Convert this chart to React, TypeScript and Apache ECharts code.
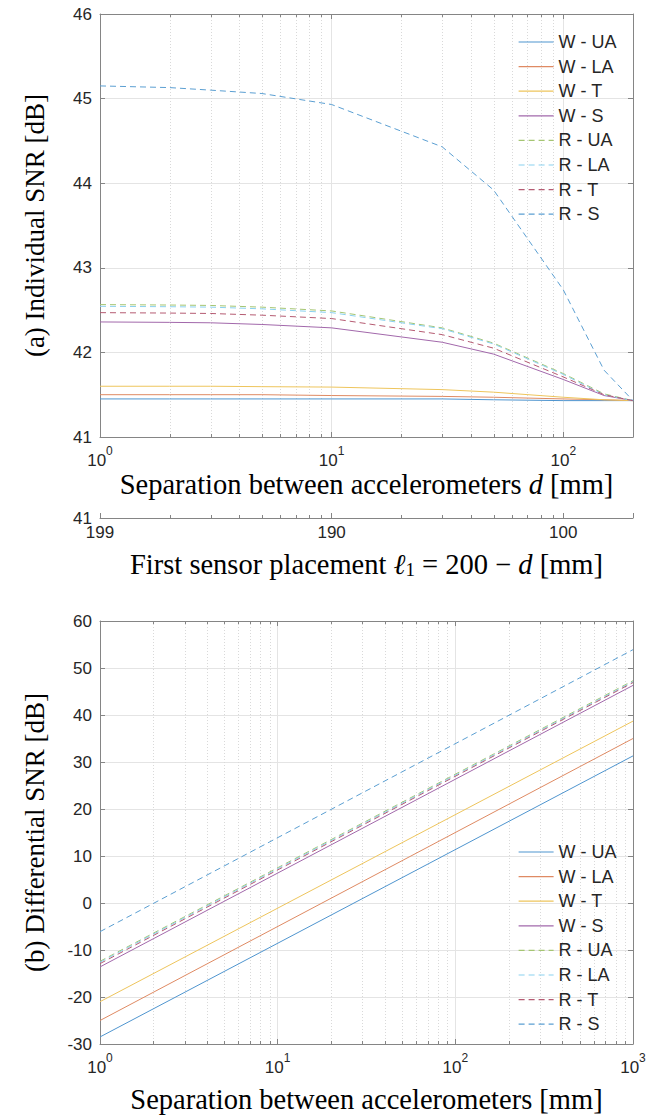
import React, { useEffect, useRef } from "react";
import * as echarts from "echarts";

// ---------- data ----------
const SERIES_NAMES = ["W - UA", "W - LA", "W - T", "W - S", "R - UA", "R - LA", "R - T", "R - S"];
const SERIES_COLORS = ["#4f95cf", "#df8a63", "#eec55c", "#a268ab", "#a5c572", "#8ad1ef", "#b55b72", "#5b9fd2"];
const SERIES_DASHED = [false, false, false, false, true, true, true, true];

// (a) individual SNR vs separation d [mm]
const D_TOP = [1, 2, 3, 5, 10, 30, 50, 100, 150, 200];
const A_W_UA = [41.45, 41.45, 41.45, 41.45, 41.45, 41.45, 41.44, 41.43, 41.43, 41.43];
const A_W_LA = [41.5, 41.5, 41.5, 41.5, 41.49, 41.48, 41.47, 41.45, 41.44, 41.43];
const A_W_T = [41.6, 41.6, 41.6, 41.595, 41.59, 41.56, 41.53, 41.47, 41.44, 41.43];
const A_W_S = [42.36, 42.355, 42.35, 42.33, 42.29, 42.12, 41.98, 41.68, 41.49, 41.43];
const A_R_UA = [42.565, 42.56, 42.555, 42.535, 42.49, 42.29, 42.11, 41.75, 41.51, 41.43];
const A_R_LA = [42.545, 42.54, 42.535, 42.515, 42.47, 42.28, 42.1, 41.74, 41.5, 41.43];
const A_R_T = [42.47, 42.465, 42.46, 42.44, 42.4, 42.21, 42.05, 41.71, 41.5, 41.43];
const A_R_S = [45.15, 45.13, 45.1, 45.06, 44.93, 44.43, 43.92, 42.74, 41.79, 41.43];
const TOP_SERIES = [A_W_UA, A_W_LA, A_W_T, A_W_S, A_R_UA, A_R_LA, A_R_T, A_R_S];

// (b) differential SNR vs separation [mm]
const D_BOT = [1, 1000];
const B_W_UA = [-28.5, 31.3];
const B_W_LA = [-25.0, 35.0];
const B_W_T = [-21.0, 38.7];
const B_W_S = [-13.6, 46.3];
const B_R_UA = [-12.4, 47.3];
const B_R_LA = [-12.6, 47.1];
const B_R_T = [-12.9, 46.9];
const B_R_S = [-6.1, 53.9];
const BOT_SERIES = [B_W_UA, B_W_LA, B_W_T, B_W_S, B_R_UA, B_R_LA, B_R_T, B_R_S];

// axes
const TOP_X_MIN = 1;
const TOP_X_MAX = 200;
const TOP_Y_MIN = 41;
const TOP_Y_MAX = 46;
const BOT_X_MIN = 1;
const BOT_X_MAX = 1000;
const BOT_Y_MIN = -30;
const BOT_Y_MAX = 60;
const MINOR_TOP = [2, 3, 4, 5, 6, 7, 8, 9, 20, 30, 40, 50, 60, 70, 80, 90];
const MINOR_BOT = [2, 3, 4, 5, 6, 7, 8, 9, 20, 30, 40, 50, 60, 70, 80, 90, 200, 300, 400, 500, 600, 700, 800, 900];
const SECONDARY_LABELS: Record<number, string> = { 1: "199", 10: "190", 100: "100" };
const SECONDARY_Y_LABEL = "41";

// ---------- styles ----------
const SANS = "'Liberation Sans', Arial, Helvetica, sans-serif";
const SERIF = "'Liberation Serif', 'Times New Roman', serif";
const TEXT_COLOR = "#262626";
const AXIS_COLOR = "#858585";
const GRID_COLOR = "#e4e4e4";
const MINOR_GRID_COLOR = "#d9d9d9";
const TICK_FS = 17;
const TITLE_FS = 27;
const XTITLE_FS = 28.5;

const powRich = {
  b: { fontSize: TICK_FS, fontFamily: SANS, color: TEXT_COLOR, lineHeight: 24, verticalAlign: "bottom" },
  s: { fontSize: 12, fontFamily: SANS, color: TEXT_COLOR, lineHeight: 14, verticalAlign: "top" },
};

const nameRich = {
  n: { fontSize: XTITLE_FS, fontFamily: SERIF, color: "#000" },
  i: { fontSize: XTITLE_FS, fontFamily: SERIF, fontStyle: "italic", color: "#000" },
  sub: { fontSize: 19, fontFamily: SERIF, color: "#000", verticalAlign: "bottom", lineHeight: 21 },
};

function powLabel(v: number) {
  const e = Math.log10(v);
  const r = Math.round(e);
  if (Math.abs(e - r) > 1e-6) return "";
  return `{b|10}{s|${r}}`;
}

function minorRender(drawGrid: boolean, drawTop: boolean, drawBottom: boolean) {
  return (params: any, api: any) => {
    const cs = params.coordSys;
    const p = api.coord([api.value(0), api.value(1)]);
    const x = Math.round(p[0]) + 0.5;
    const yTop = cs.y;
    const yBot = cs.y + cs.height;
    const children: any[] = [];
    if (drawGrid) {
      children.push({
        type: "line",
        shape: { x1: x, y1: yTop, x2: x, y2: yBot },
        style: { stroke: MINOR_GRID_COLOR, lineWidth: 1, lineDash: [1, 2] },
      });
    }
    if (drawBottom) {
      children.push({
        type: "line",
        shape: { x1: x, y1: yBot, x2: x, y2: yBot - 3 },
        style: { stroke: AXIS_COLOR, lineWidth: 1 },
      });
    }
    if (drawTop) {
      children.push({
        type: "line",
        shape: { x1: x, y1: yTop, x2: x, y2: yTop + 3 },
        style: { stroke: AXIS_COLOR, lineWidth: 1 },
      });
    }
    return { type: "group", children };
  };
}

const axisLine = { show: true, onZero: false, lineStyle: { color: AXIS_COLOR, width: 1 } };
const axisTickIn = { show: true, inside: true, length: 5, lineStyle: { color: AXIS_COLOR } };

function lineSeries(name: string, idx: number, xs: number[], ys: number[], axisIdx: number) {
  return {
    type: "line",
    name,
    xAxisIndex: axisIdx,
    yAxisIndex: axisIdx,
    data: xs.map((d, i) => [d, ys[i]]),
    symbol: "none",
    showSymbol: false,
    color: SERIES_COLORS[idx],
    lineStyle: { color: SERIES_COLORS[idx], width: 1, type: SERIES_DASHED[idx] ? [6, 4] : "solid" },
    emphasis: { disabled: true },
    z: 3,
  };
}

function legendAt(top: number) {
  return {
    data: SERIES_NAMES,
    orient: "vertical",
    left: 513,
    top,
    itemWidth: 35,
    itemHeight: 14,
    itemGap: 6.6,
    selectedMode: false,
    itemStyle: { opacity: 0 },
    lineStyle: { width: 1.2 },
    textStyle: { fontSize: 18, fontFamily: SANS, color: TEXT_COLOR },
  };
}

export default function App() {
  const ref = useRef<HTMLDivElement>(null);
  useEffect(() => {
    document.body.style.margin = "0";
    if (!ref.current) return;
    const chart = echarts.init(ref.current, undefined, { renderer: "svg" });
    const option: any = {
      animation: false,
      backgroundColor: "#fff",
      grid: [
        { left: 100, top: 14, width: 533, height: 423 },
        { left: 100, top: 510, width: 533, height: 8 },
        { left: 100, top: 621, width: 533, height: 423 },
      ],
      legend: [legendAt(28), legendAt(838)],
      xAxis: [
        {
          type: "log",
          logBase: 10,
          gridIndex: 0,
          min: TOP_X_MIN,
          max: TOP_X_MAX,
          position: "bottom",
          axisLine,
          axisTick: axisTickIn,
          axisLabel: { formatter: powLabel, rich: powRich, margin: 8 },
          splitLine: { show: true, lineStyle: { color: GRID_COLOR } },
          name: "{n|Separation between accelerometers }{i|d}{n| [mm]}",
          nameLocation: "middle",
          nameGap: 33,
          nameTextStyle: { rich: nameRich },
        },
        {
          type: "log",
          logBase: 10,
          gridIndex: 0,
          min: TOP_X_MIN,
          max: TOP_X_MAX,
          position: "top",
          axisLine,
          axisTick: axisTickIn,
          axisLabel: { show: false },
          splitLine: { show: false },
        },
        {
          type: "log",
          logBase: 10,
          gridIndex: 1,
          min: TOP_X_MIN,
          max: TOP_X_MAX,
          position: "bottom",
          axisLine,
          axisTick: axisTickIn,
          axisLabel: {
            formatter: (v: number) => SECONDARY_LABELS[Math.round(v)] ?? "",
            fontSize: TICK_FS,
            fontFamily: SANS,
            color: TEXT_COLOR,
            margin: 6,
          },
          splitLine: { show: false },
          name: "{n|First sensor placement }{i|ℓ}{sub|1}{n| = 200 − }{i|d}{n| [mm]}",
          nameLocation: "middle",
          nameGap: 32,
          nameTextStyle: { rich: nameRich },
        },
        {
          type: "log",
          logBase: 10,
          gridIndex: 2,
          min: BOT_X_MIN,
          max: BOT_X_MAX,
          position: "bottom",
          axisLine,
          axisTick: axisTickIn,
          axisLabel: { formatter: powLabel, rich: powRich, margin: 8 },
          splitLine: { show: true, lineStyle: { color: GRID_COLOR } },
          name: "{n|Separation between accelerometers [mm]}",
          nameLocation: "middle",
          nameGap: 41,
          nameTextStyle: { rich: nameRich },
        },
        {
          type: "log",
          logBase: 10,
          gridIndex: 2,
          min: BOT_X_MIN,
          max: BOT_X_MAX,
          position: "top",
          axisLine,
          axisTick: axisTickIn,
          axisLabel: { show: false },
          splitLine: { show: false },
        },
      ],
      yAxis: [
        {
          type: "value",
          gridIndex: 0,
          min: TOP_Y_MIN,
          max: TOP_Y_MAX,
          interval: 1,
          position: "left",
          axisLine,
          axisTick: axisTickIn,
          axisLabel: { fontSize: TICK_FS, fontFamily: SANS, color: TEXT_COLOR, margin: 8 },
          splitLine: { show: true, lineStyle: { color: GRID_COLOR } },
          name: "(a) Individual SNR [dB]",
          nameLocation: "middle",
          nameGap: 52,
          nameTextStyle: { fontSize: TITLE_FS, fontFamily: SERIF, color: "#000" },
        },
        {
          type: "value",
          gridIndex: 0,
          min: TOP_Y_MIN,
          max: TOP_Y_MAX,
          interval: 1,
          position: "right",
          axisLine,
          axisTick: axisTickIn,
          axisLabel: { show: false },
          splitLine: { show: false },
        },
        {
          type: "value",
          gridIndex: 1,
          min: 41,
          max: 42,
          interval: 1,
          position: "left",
          axisLine: { show: false },
          axisTick: { show: false },
          axisLabel: {
            formatter: (v: number) => (v === 41 ? SECONDARY_Y_LABEL : ""),
            fontSize: TICK_FS,
            fontFamily: SANS,
            color: TEXT_COLOR,
            margin: 8,
          },
          splitLine: { show: false },
        },
        {
          type: "value",
          gridIndex: 2,
          min: BOT_Y_MIN,
          max: BOT_Y_MAX,
          interval: 10,
          position: "left",
          axisLine,
          axisTick: axisTickIn,
          axisLabel: { fontSize: TICK_FS, fontFamily: SANS, color: TEXT_COLOR, margin: 8 },
          splitLine: { show: true, lineStyle: { color: GRID_COLOR } },
          name: "(b) Differential SNR [dB]",
          nameLocation: "middle",
          nameGap: 52,
          nameTextStyle: { fontSize: TITLE_FS, fontFamily: SERIF, color: "#000" },
        },
        {
          type: "value",
          gridIndex: 2,
          min: BOT_Y_MIN,
          max: BOT_Y_MAX,
          interval: 10,
          position: "right",
          axisLine,
          axisTick: axisTickIn,
          axisLabel: { show: false },
          splitLine: { show: false },
        },
      ],
      series: [
        {
          type: "custom",
          xAxisIndex: 0,
          yAxisIndex: 0,
          silent: true,
          z: 1,
          data: MINOR_TOP.map((v) => [v, TOP_Y_MIN]),
          renderItem: minorRender(true, true, true),
        },
        {
          type: "custom",
          xAxisIndex: 2,
          yAxisIndex: 2,
          silent: true,
          z: 1,
          data: MINOR_TOP.map((v) => [v, 41]),
          renderItem: minorRender(false, false, true),
        },
        {
          type: "custom",
          xAxisIndex: 3,
          yAxisIndex: 3,
          silent: true,
          z: 1,
          data: MINOR_BOT.map((v) => [v, BOT_Y_MIN]),
          renderItem: minorRender(true, true, true),
        },
        ...SERIES_NAMES.map((n, i) => lineSeries(n, i, D_TOP, TOP_SERIES[i], 0)),
        ...SERIES_NAMES.map((n, i) => lineSeries(n, i, D_BOT, BOT_SERIES[i], 3)),
      ],
    };
    chart.setOption(option);
    return () => chart.dispose();
  }, []);
  return <div ref={ref} style={{ width: 662, height: 1117 }} />;
}
